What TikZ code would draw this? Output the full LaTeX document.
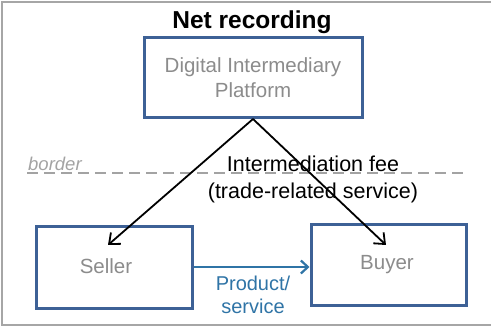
\documentclass[tikz,border=0pt]{standalone}
\usepackage{fontspec}
\setmainfont{Liberation Sans}
\usetikzlibrary{arrows.meta}
\definecolor{boxblue}{HTML}{3D6196}
\definecolor{flowblue}{HTML}{2F74A6}
\definecolor{labelgray}{HTML}{8C8C8C}
\definecolor{framegray}{HTML}{A6A6A6}
\tikzset{
  party/.style={draw=boxblue, line width=3pt, fill=white, inner sep=0pt},
  partytext/.style={text=labelgray, font=\fontsize{20.5}{25}\selectfont, align=center},
  fee/.style={black, line width=1.8pt, -{Straight Barb[length=9pt,width=15pt,line width=1.8pt]}},
  flow/.style={flowblue, line width=2.6pt, -{Straight Barb[length=7pt,width=13pt,line width=2.2pt]}}
}
\begin{document}
\begin{tikzpicture}[x=1pt,y=-1pt]
\useasboundingbox (0,0) rectangle (491,329);
% outer frame (open on the right)
\draw[framegray, line width=2.4pt] (495,2) -- (2,2) -- (2,325) -- (495,325);

% title
\node[font=\bfseries\fontsize{24.5}{28}\selectfont] (title) at (252,22) {Net recording};

% border line between jurisdictions
\coordinate (bl) at (27,173);
\coordinate (br) at (466,173);
\draw[labelgray!80, line width=1.6pt, dash pattern=on 11pt off 6pt] (bl) -- (br);
\node[text=labelgray!80, font=\itshape\fontsize{18.5}{22}\selectfont, anchor=base west, inner sep=0pt] (borderlbl) at (28,171) {border};

% parties
\node[party, minimum width=218pt, minimum height=80pt] (platform) at (253,78) {};
\node[partytext] at (platform.center) {Digital Intermediary\\Platform};
\node[party, minimum width=156pt, minimum height=81pt] (seller) at (114,267.5) {};
\node[partytext] at (106,266) {Seller};
\node[party, minimum width=155pt, minimum height=80pt] (buyer) at (388.5,265) {};
\node[partytext] at (387,265) {Buyer};

% intermediation fee flows
\coordinate (apex) at (253,119);
\coordinate (sellertip) at (108,245);
\coordinate (buyertip) at (386,245);
\draw[fee] (apex) -- (sellertip);
\draw[fee] (apex) -- (buyertip);
\node[font=\fontsize{21.5}{27}\selectfont, align=center, inner sep=0pt] (feelbl) at (313,179) {Intermediation fee\\(trade-related service)};

% product flow
\draw[flow] (seller.east |- 0,267) -- (buyer.west |- 0,267);
\node[text=flowblue, font=\fontsize{20}{23}\selectfont, align=center, inner sep=0pt] (prodlbl) at (253,295) {Product/\\service};
\end{tikzpicture}
\end{document}
